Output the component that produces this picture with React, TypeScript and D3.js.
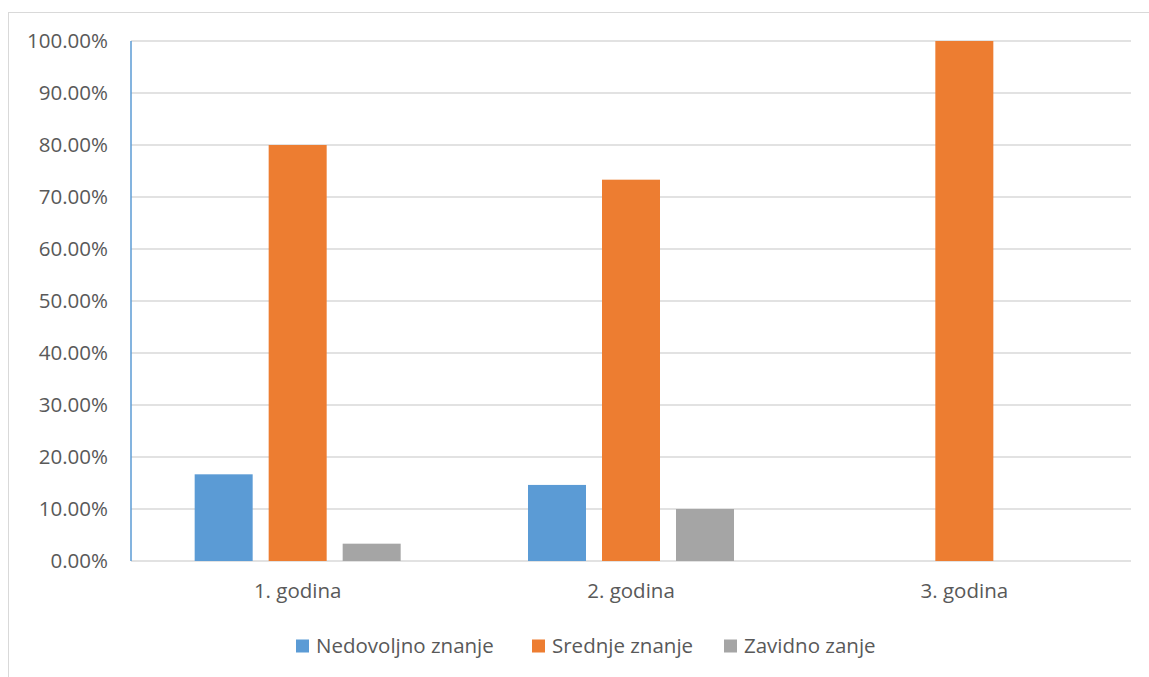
import * as d3 from "d3";
import { useEffect, useRef } from "react";

const categories = ["1. godina", "2. godina", "3. godina"];
const seriesNames = ["Nedovoljno znanje", "Srednje znanje", "Zavidno zanje"];
const colors = ["#5b9bd5", "#ed7d31", "#a5a5a5"];
const nedovoljno = [0.1667, 0.1463, 0];
const srednje = [0.8, 0.7333, 1.0];
const zavidno = [0.0333, 0.1, 0];
const yTicks = [0, 0.1, 0.2, 0.3, 0.4, 0.5, 0.6, 0.7, 0.8, 0.9, 1.0];

export default function App() {
  const svgRef = useRef<SVGSVGElement>(null);

  useEffect(() => {
    const width = 1149;
    const height = 677;
    const plot = { left: 131, right: 1131, top: 41, bottom: 561 };
    const font = "'Open Sans', sans-serif";
    const fontSize = 20.5;
    const textColor = "#595959";

    const svg = d3.select(svgRef.current).attr("width", width).attr("height", height);
    svg.selectAll("*").remove();

    // outer frame
    svg
      .append("rect")
      .attr("x", 8.5)
      .attr("y", 12.5)
      .attr("width", width + 20)
      .attr("height", height + 20)
      .attr("fill", "white")
      .attr("stroke", "#d9d9d9");

    const x = d3.scaleBand().domain(categories).range([plot.left, plot.right]);
    const y = d3.scaleLinear().domain([0, 1]).range([plot.bottom, plot.top]);

    // gridlines
    svg
      .append("g")
      .selectAll("line")
      .data(yTicks)
      .join("line")
      .attr("x1", plot.left)
      .attr("x2", plot.right)
      .attr("y1", (d) => y(d))
      .attr("y2", (d) => y(d))
      .attr("stroke", "#d9d9d9")
      .attr("stroke-width", 1.5);

    // y tick labels
    svg
      .append("g")
      .selectAll("text")
      .data(yTicks)
      .join("text")
      .attr("x", 108)
      .attr("y", (d) => y(d))
      .attr("dy", "0.35em")
      .attr("text-anchor", "end")
      .attr("font-family", font)
      .attr("font-size", fontSize)
      .attr("fill", textColor)
      .text((d) => d3.format(".2%")(d));

    // bars
    const series = [nedovoljno, srednje, zavidno];
    const barW = 58;
    const gap = 16;
    const groupW = barW * 3 + gap * 2;
    const inner = d3
      .scaleOrdinal<number, number>()
      .domain([0, 1, 2])
      .range([0, barW + gap, 2 * (barW + gap)]);

    series.forEach((vals, si) => {
      svg
        .append("g")
        .selectAll("rect")
        .data(vals.map((v, i) => ({ v, c: categories[i] })))
        .join("rect")
        .attr("x", (d) => x(d.c)! + (x.bandwidth() - groupW) / 2 + inner(si))
        .attr("y", (d) => y(d.v))
        .attr("width", barW)
        .attr("height", (d) => y(0) - y(d.v))
        .attr("fill", colors[si]);
    });

    // left axis line
    svg
      .append("line")
      .attr("x1", plot.left)
      .attr("x2", plot.left)
      .attr("y1", plot.top)
      .attr("y2", plot.bottom)
      .attr("stroke", "#5b9bd5")
      .attr("stroke-width", 1.5);

    // category labels
    svg
      .append("g")
      .selectAll("text")
      .data(categories)
      .join("text")
      .attr("x", (d) => x(d)! + x.bandwidth() / 2)
      .attr("y", 591)
      .attr("dy", "0.35em")
      .attr("text-anchor", "middle")
      .attr("font-family", font)
      .attr("font-size", fontSize)
      .attr("fill", textColor)
      .text((d) => d);

    // legend
    const legendX = [296, 532, 724];
    const legend = svg
      .append("g")
      .selectAll("g")
      .data(seriesNames)
      .join("g")
      .attr("transform", (d, i) => `translate(${legendX[i]},646)`);
    legend
      .append("rect")
      .attr("x", 0)
      .attr("y", -6.5)
      .attr("width", 13)
      .attr("height", 13)
      .attr("fill", (d, i) => colors[i]);
    legend
      .append("text")
      .attr("x", 20)
      .attr("y", 0)
      .attr("dy", "0.35em")
      .attr("font-family", font)
      .attr("font-size", fontSize)
      .attr("fill", textColor)
      .text((d) => d);
  }, []);

  return (
    <svg
      ref={svgRef}
      style={{ position: "absolute", left: 0, top: 0, display: "block" }}
    ></svg>
  );
}
